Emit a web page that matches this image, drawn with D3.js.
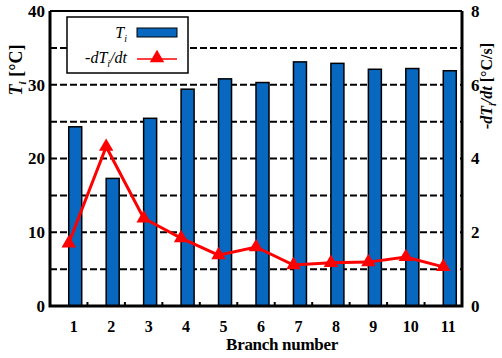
<!DOCTYPE html>
<html>
<head>
<meta charset="utf-8">
<script src="https://cdn.jsdelivr.net/npm/d3@7"></script>
<style>
  html, body { margin: 0; padding: 0; background: #fff; }
  svg { display: block; }
  text { font-family: "Liberation Serif", "Times New Roman", serif; }
</style>
</head>
<body>
<svg id="chart" width="502" height="358"></svg>
<script>
// Branch temperature and cooling rate per branch
const branches = [1, 2, 3, 4, 5, 6, 7, 8, 9, 10, 11];
const temperature = [24.3, 17.3, 25.45, 29.4, 30.8, 30.3, 33.1, 32.9, 32.1, 32.2, 31.9];
const coolingRate = [1.70, 4.32, 2.38, 1.84, 1.38, 1.60, 1.11, 1.17, 1.19, 1.33, 1.06];
const leftTicks = [0, 10, 20, 30, 40];
const rightTicks = [0, 2, 4, 6, 8];
const gridValues = [5, 10, 15, 20, 25, 30, 35];

const svg = d3.select("#chart");
const plotLeft = 50, plotRight = 462, plotTop = 11, plotBottom = 306;

const x = d3.scaleBand().domain(branches).range([plotLeft, plotRight]).padding(0);
const yL = d3.scaleLinear().domain([0, 40]).range([plotBottom, plotTop]);
const yR = d3.scaleLinear().domain([0, 8]).range([plotBottom, plotTop]);
const cx = d => x(d) + x.bandwidth() / 2;

const blue = "#0868c0";
const red = "#ff0000";
const barW = 13;

// dashed horizontal grid
svg.append("g").selectAll("line").data(gridValues).join("line")
  .attr("x1", plotLeft).attr("x2", plotRight)
  .attr("y1", d => yL(d)).attr("y2", d => yL(d))
  .attr("stroke", "#000").attr("stroke-width", 2)
  .attr("stroke-dasharray", "7,3");

// bars, drawn to the right of each category centre
svg.append("g").selectAll("rect").data(branches).join("rect")
  .attr("x", d => cx(d))
  .attr("y", (d, i) => yL(temperature[i]))
  .attr("width", barW)
  .attr("height", (d, i) => yL(0) - yL(temperature[i]))
  .attr("fill", blue)
  .attr("stroke", "#000").attr("stroke-width", 1.5);

// small ticks at category boundaries along the bottom
svg.append("g").selectAll("line").data(branches.slice(0, -1)).join("line")
  .attr("x1", d => x(d) + x.step()).attr("x2", d => x(d) + x.step())
  .attr("y1", plotBottom).attr("y2", plotBottom - 4)
  .attr("stroke", "#000").attr("stroke-width", 2);

// cooling-rate line with triangle markers
const line = d3.line().x((d, i) => cx(branches[i])).y(d => yR(d));
svg.append("path").datum(coolingRate)
  .attr("d", line).attr("fill", "none")
  .attr("stroke", red).attr("stroke-width", 3);
const tri = d3.symbol().type(d3.symbolTriangle).size(90);
svg.append("g").selectAll("path").data(coolingRate).join("path")
  .attr("d", tri)
  .attr("transform", (d, i) => `translate(${cx(branches[i])},${yR(d)})`)
  .attr("fill", red);

// frame
svg.append("line").attr("x1", plotLeft).attr("x2", plotRight).attr("y1", plotTop).attr("y2", plotTop)
  .attr("stroke", "#000").attr("stroke-width", 2);
svg.append("path")
  .attr("d", `M${plotLeft},${plotTop}V${plotBottom}H${plotRight}V${plotTop}`)
  .attr("fill", "none").attr("stroke", "#000").attr("stroke-width", 3);

// left axis labels
svg.append("g").selectAll("text").data(leftTicks).join("text")
  .attr("x", plotLeft - 5).attr("y", d => yL(d)).attr("dy", "0.35em")
  .attr("text-anchor", "end").attr("font-size", 17).attr("font-weight", "bold")
  .text(d => d);

// right axis labels
svg.append("g").selectAll("text").data(rightTicks).join("text")
  .attr("x", plotRight + 9).attr("y", d => yR(d)).attr("dy", "0.35em")
  .attr("text-anchor", "start").attr("font-size", 17).attr("font-weight", "bold")
  .text(d => d);

// category labels
svg.append("g").selectAll("text").data(branches).join("text")
  .attr("x", d => cx(d) + 5).attr("y", 332)
  .attr("text-anchor", "middle").attr("font-size", 16).attr("font-weight", "bold")
  .text(d => d);

// x-axis title
svg.append("text").attr("x", 282).attr("y", 350)
  .attr("text-anchor", "middle").attr("font-size", 17).attr("font-weight", "bold")
  .attr("letter-spacing", "-0.3")
  .text("Branch number");

// left axis title
const lt = svg.append("text")
  .attr("transform", "translate(22,70) rotate(-90)")
  .attr("text-anchor", "middle").attr("font-size", 18).attr("font-weight", "bold");
lt.append("tspan").attr("font-style", "italic").text("T");
lt.append("tspan").attr("font-style", "italic").attr("font-size", 11).attr("dy", 4).text("i");
lt.append("tspan").attr("dy", -4).text(" [°C]");

// right axis title
const rt = svg.append("text")
  .attr("transform", "translate(492,86) rotate(-90)")
  .attr("text-anchor", "middle").attr("font-size", 16).attr("font-weight", "bold");
rt.append("tspan").attr("font-style", "italic").text("-dT");
rt.append("tspan").attr("font-style", "italic").attr("font-size", 10).attr("dy", 4).text("i");
rt.append("tspan").attr("font-style", "italic").attr("dy", -4).text("/dt");
rt.append("tspan").text(" [°C/s]");

// legend
const lg = svg.append("g");
lg.append("rect").attr("x", 67).attr("y", 17).attr("width", 121).attr("height", 56)
  .attr("fill", "#fff").attr("stroke", "#000").attr("stroke-width", 1.5);
const l1 = lg.append("text").attr("x", 127).attr("y", 38)
  .attr("text-anchor", "end").attr("font-size", 16).attr("font-style", "italic");
l1.append("tspan").text("T");
l1.append("tspan").attr("font-size", 10).attr("dy", 4).text("i");
lg.append("rect").attr("x", 137).attr("y", 28).attr("width", 40).attr("height", 9)
  .attr("fill", blue).attr("stroke", "#000").attr("stroke-width", 1);
const l2 = lg.append("text").attr("x", 127).attr("y", 63)
  .attr("text-anchor", "end").attr("font-size", 16).attr("font-style", "italic");
l2.append("tspan").text("-dT");
l2.append("tspan").attr("font-size", 10).attr("dy", 4).text("i");
l2.append("tspan").attr("dy", -4).text("/dt");
lg.append("line").attr("x1", 137).attr("x2", 177).attr("y1", 59).attr("y2", 59)
  .attr("stroke", red).attr("stroke-width", 1.5);
lg.append("path").attr("d", tri).attr("transform", "translate(157,58)").attr("fill", red);
</script>
</body>
</html>
